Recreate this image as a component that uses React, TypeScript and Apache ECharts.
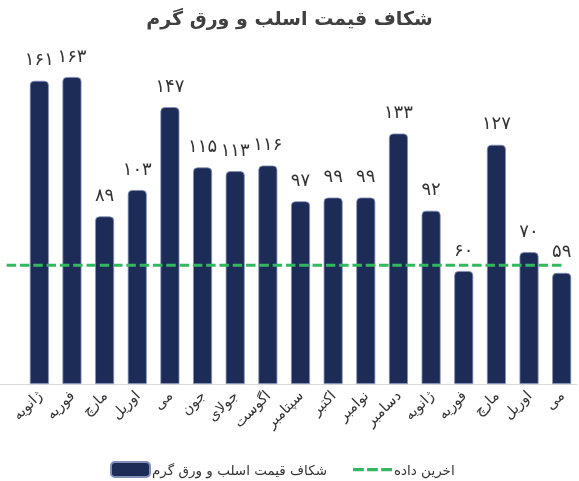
import React, { useEffect, useRef } from "react";
import * as echarts from "echarts";

const categories = [
  "ژانویه", "فوریه", "مارچ", "اوریل", "می", "جون", "جولای", "اگوست",
  "سپتامبر", "اکتبر", "نوامبر", "دسامبر", "ژانویه", "فوریه", "مارچ", "اوریل", "می",
];
const gapValues = [161, 163, 89, 103, 147, 115, 113, 116, 97, 99, 99, 133, 92, 60, 127, 70, 59];
const lastDataLevel = 63;
const lastDataSpan = [-1, 16];

const titleText = "شکاف قیمت اسلب و ورق گرم";
const barName = "شکاف قیمت اسلب و ورق گرم";
const lineName = "اخرین داده";

const persianDigits = "۰۱۲۳۴۵۶۷۸۹";
const toPersian = (n: number | string) =>
  String(n).replace(/[0-9]/g, (d) => persianDigits[Number(d)]);

const FONT = "DejaVu Sans";
const TOP = 45;
const BOTTOM = 97;

export default function App() {
  const ref = useRef<HTMLDivElement>(null);
  useEffect(() => {
    if (!ref.current) return;
    const chart = echarts.init(ref.current, undefined, { renderer: "svg" });
    chart.setOption({
      animation: false,
      textStyle: { fontFamily: FONT },
      title: {
        text: titleText,
        left: "center",
        top: 3,
        textStyle: { fontFamily: FONT, fontSize: 19, fontWeight: "bold", color: "#404040" },
      },
      legend: {
        top: 461,
        left: 110,
        padding: 0,
        itemWidth: 39,
        itemHeight: 15,
        itemGap: 26,
        data: [
          { name: barName, icon: "roundRect" },
          {
            name: lineName,
            icon: "path://M0,0h10v3h-10z M13,0h10v3h-10z M26,0h10v3h-10z",
            itemStyle: { color: "#33b85f" },
          },
        ],
        textStyle: { fontFamily: FONT, fontSize: 13.5, color: "#333", padding: [0, 0, 0, -3] },
      },
      grid: [
        { left: 23, right: 1, top: TOP, bottom: BOTTOM },
        { left: 6.65, right: 17.3, top: TOP, bottom: BOTTOM },
        { left: 0, right: 2, top: TOP, bottom: BOTTOM },
      ],
      xAxis: [
        {
          type: "category",
          gridIndex: 0,
          data: categories,
          axisLine: { show: false },
          axisTick: { show: false },
          axisLabel: {
            interval: 0,
            rotate: 45,
            fontFamily: FONT,
            fontSize: 14.5,
            color: "#333",
            margin: 9,
          },
        },
        {
          type: "value",
          gridIndex: 1,
          min: -1,
          max: 16,
          show: false,
        },
        {
          type: "value",
          gridIndex: 2,
          min: 0,
          max: 1,
          axisLine: { show: true, onZero: false, lineStyle: { color: "#d9d9d9", width: 1 } },
          axisTick: { show: false },
          axisLabel: { show: false },
          splitLine: { show: false },
        },
      ],
      yAxis: [
        { type: "value", gridIndex: 0, min: 0, max: 180, show: false },
        { type: "value", gridIndex: 1, min: 0, max: 180, show: false },
        { type: "value", gridIndex: 2, min: 0, max: 180, show: false },
      ],
      series: [
        {
          name: barName,
          type: "bar",
          xAxisIndex: 0,
          yAxisIndex: 0,
          data: gapValues,
          barWidth: 19,
          z: 2,
          itemStyle: {
            color: "#1d2b57",
            borderColor: "#8190b8",
            borderWidth: 0.8,
            borderRadius: [4, 4, 0, 0],
          },
          label: {
            show: true,
            position: "top",
            distance: 13,
            fontFamily: FONT,
            fontSize: 18,
            color: "#333",
            formatter: (p: any) => toPersian(p.value),
          },
        },
        {
          name: lineName,
          type: "line",
          xAxisIndex: 1,
          yAxisIndex: 1,
          symbol: "none",
          z: 3,
          color: "#33b85f",
          lineStyle: { color: "#33b85f", width: 3, type: [9.5, 3.8] },
          data: lastDataSpan.map((x) => [x, lastDataLevel]),
        },
      ],
    });
    return () => chart.dispose();
  }, []);
  return (
    <div
      ref={ref}
      style={{ position: "fixed", left: 0, top: 0, width: 579, height: 481 }}
    />
  );
}
